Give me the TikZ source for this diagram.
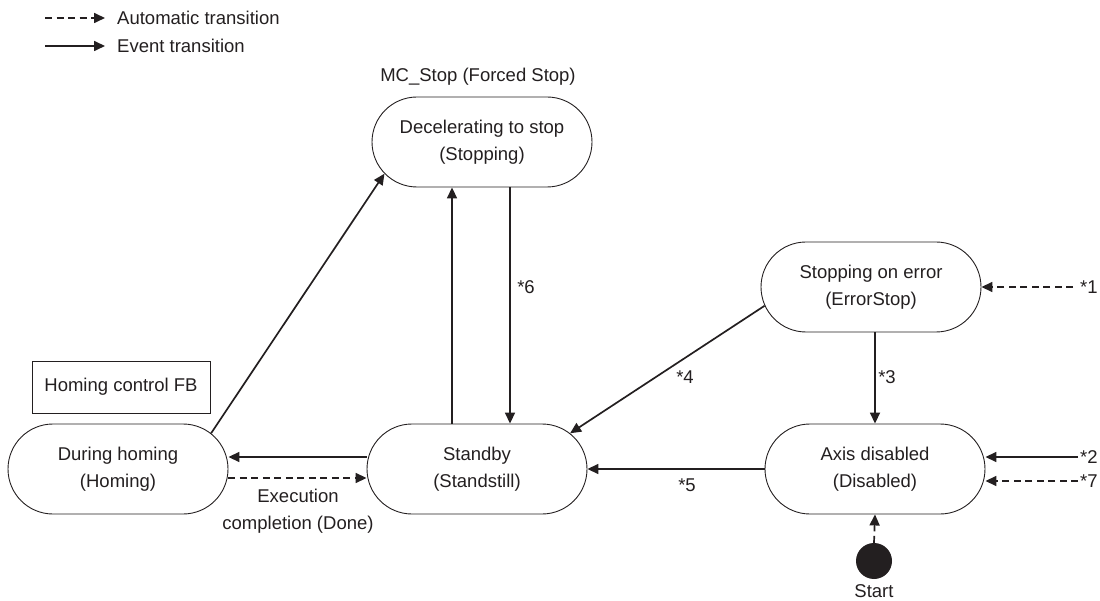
\documentclass[tikz,border=0pt]{standalone}
\usepackage{fontspec}
\setmainfont{Liberation Sans}
\usetikzlibrary{arrows.meta,shapes.misc}
\definecolor{ink}{HTML}{231F20}
\begin{document}
\begin{tikzpicture}[x=1pt,y=-1pt,
  font=\fontsize{18.5}{26.5}\selectfont,
  every node/.style={text=ink},
  state/.style={draw=ink,line width=0.9pt,rounded rectangle,minimum width=220pt,
    minimum height=90pt,inner sep=0pt,align=center},
  fbbox/.style={draw=ink,line width=0.9pt,minimum width=178pt,minimum height=52pt,inner sep=0pt},
  evt/.style={draw=ink,line width=1.7pt,-{Triangle[length=11pt,width=10pt]}},
  auto/.style={evt,dash pattern=on 7pt off 4.5pt},
  lbl/.style={inner sep=0pt,align=center}]
\useasboundingbox (0,0) rectangle (1100,601);

% legend
\coordinate (la1) at (45,18);
\coordinate (la2) at (105,18);
\coordinate (lb1) at (45,46);
\coordinate (lb2) at (105,46);
\draw[auto] (la1) -- (la2);
\draw[evt] (lb1) -- (lb2);
\node[lbl,anchor=west] (lat) at (117,18) {Automatic transition};
\node[lbl,anchor=west] (lbt) at (117,46) {Event transition};

% states
\node[state] (decel) at (482,142) {Decelerating to stop\\(Stopping)};
\node[state] (stop) at (871,287) {Stopping on error\\(ErrorStop)};
\node[state] (homing) at (118,469) {During homing\\(Homing)};
\node[state] (standby) at (477,469) {Standby\\(Standstill)};
\node[state] (axis) at (875,469) {Axis disabled\\(Disabled)};
\node[fbbox] (fb) at (121,387) {Homing control FB};
\node[lbl] (mcstop) at (478,77) {MC\_Stop (Forced Stop)};
\node[circle,fill=ink,minimum size=36pt,inner sep=0pt] (start) at (874,561) {};
\node[lbl] (startlbl) at (874,591) {Start};

% external entry points
\coordinate (in1) at (1073,287);
\coordinate (in2) at (1078,457);
\coordinate (in7) at (1078,481);

% transitions
\draw[evt] (homing.21) -- (decel.198);
\draw[evt] ([xshift=-25pt]standby.north) -- ([xshift=-25pt]standby.north |- decel.south);
\draw[evt] ([xshift=28pt]decel.south) -- ([xshift=28pt]decel.south |- standby.north);
\node[lbl] (l6) at (526,287) {*6};
\draw[evt] ([yshift=12pt]standby.west) -- ([yshift=12pt]standby.west -| homing.east);
\draw[auto] ([yshift=-9pt]homing.east) -- ([yshift=-9pt]homing.east -| standby.west);
\node[lbl] (done) at (298,511) {Execution\\completion (Done)};
\draw[evt] (stop.190.7) -- (standby.21.3);
\node[lbl] (l4) at (685,377) {*4};
\draw[evt] (axis.north |- stop.south) -- (axis.north);
\node[lbl] (l3) at (887,377) {*3};
\draw[evt] (axis.west) -- (standby.east);
\node[lbl] (l5) at (687,485) {*5};
\draw[auto] (in1) -- (in1 -| stop.east);
\node[lbl,anchor=west] (l1) at (1080,287) {*1};
\draw[evt] (in2) -- (in2 -| axis.east);
\node[lbl,anchor=west] (l2) at (1080,457) {*2};
\draw[auto] (in7) -- (in7 -| axis.east);
\node[lbl,anchor=west] (l7) at (1080,481) {*7};
\draw[auto] (start.north) -- (axis.south);
\end{tikzpicture}
\end{document}
